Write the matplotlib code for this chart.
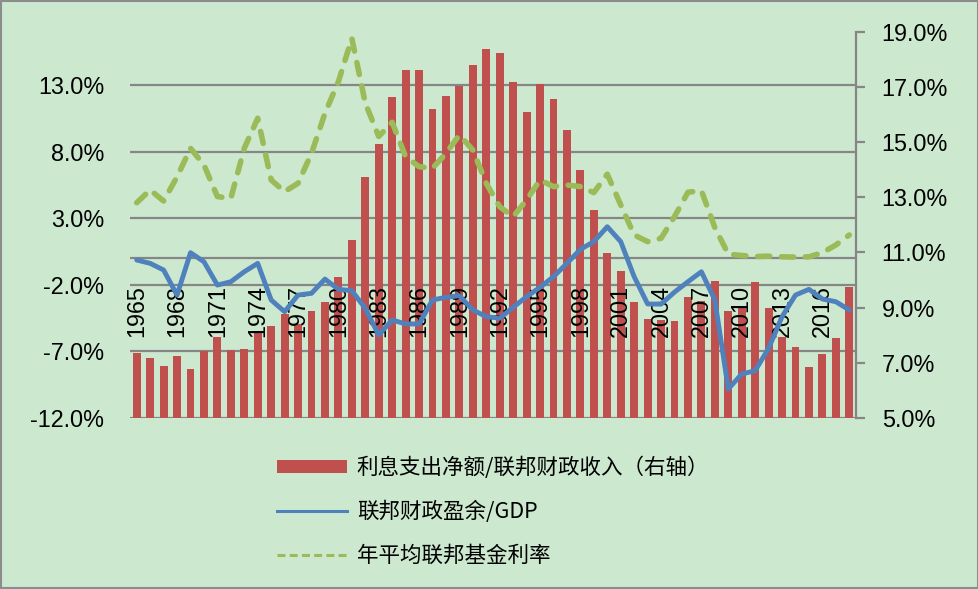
import matplotlib
matplotlib.use("Agg")
import matplotlib.pyplot as plt
from matplotlib.patches import Patch, Rectangle
from matplotlib.lines import Line2D

years = list(range(1965, 2019))

interest_to_revenue = [
    7.36, 7.17, 6.89, 7.25, 6.77, 7.42, 7.93, 7.45, 7.49, 8.09,
    8.32, 8.78, 8.39, 8.87, 9.20, 10.12, 11.46, 13.74, 14.92, 16.62,
    17.60, 17.63, 16.19, 16.66, 17.02, 17.81, 18.39, 18.24, 17.16, 16.08,
    17.12, 16.55, 15.43, 13.99, 12.54, 10.99, 10.34, 9.19, 8.57, 8.55,
    8.50, 9.40, 9.23, 9.98, 8.86, 9.04, 9.94, 8.97, 7.93, 7.57,
    6.85, 7.32, 7.90, 9.73,
]

surplus_to_gdp = [
    -0.14, -0.39, -0.89, -2.77, 0.41, -0.27, -2.02, -1.77, -1.02, -0.39,
    -3.14, -4.02, -2.77, -2.64, -1.57, -2.34, -2.44, -3.77, -5.77, -4.64,
    -4.94, -4.94, -3.14, -2.94, -2.82, -3.89, -4.39, -4.51, -3.69, -2.89,
    -2.19, -1.39, -0.39, 0.66, 1.24, 2.36, 1.24, -1.39, -3.44, -3.45,
    -2.55, -1.77, -1.02, -3.14, -9.82, -8.70, -8.45, -6.77, -4.39, -2.77,
    -2.34, -3.07, -3.27, -3.89,
]

fed_funds_rate = [
    4.16, 5.12, 4.29, 6.10, 8.25, 7.00, 4.62, 4.49, 8.25, 10.50,
    5.87, 4.99, 5.62, 7.87, 10.87, 13.25, 16.50, 11.64, 9.14, 10.20,
    7.62, 6.87, 6.74, 7.87, 9.25, 8.12, 5.62, 3.86, 3.11, 4.37,
    5.87, 5.37, 5.49, 5.37, 4.92, 6.30, 4.00, 1.74, 1.24, 1.49,
    3.12, 4.95, 5.07, 2.30, 0.30, 0.20, 0.12, 0.15, 0.10, 0.08,
    0.10, 0.41, 0.99, 1.74,
]

left_ticks = [-12, -7, -2, 3, 8, 13]
right_ticks = [5, 7, 9, 11, 13, 15, 17, 19]
label_years = years[::3]

series_names = ["利息支出净额/联邦财政收入（右轴）", "联邦财政盈余/GDP", "年平均联邦基金利率"]

BG = "#CCE8CF"
GRID = "#868686"
RED = "#C0504D"
BLUE = "#4F81BD"
GREEN = "#9BBB59"
TICK_FONT = "Liberation Sans"
TICK_SIZE = 16.8

W, H = 979, 589
fig = plt.figure(figsize=(W / 100, H / 100), dpi=100)
fig.patch.set_facecolor(BG)

left, right, top, bottom = 130, 856, 31.7, 418
rect = [left / W, 1 - bottom / H, (right - left) / W, (bottom - top) / H]

x = list(range(len(years)))

# base axes: grid and left tick labels
ax = fig.add_axes(rect)
ax.set_facecolor(BG)
ax.set_xlim(-0.5, len(years) - 0.5)
ax.set_ylim(-12, 17)
ax.set_yticks(left_ticks)
ax.set_yticklabels([f"{v:.1f}%" for v in left_ticks], fontfamily=TICK_FONT, fontsize=TICK_SIZE)
ax.tick_params(axis="y", length=0, pad=18.5)
ax.set_xticks([])
ax.yaxis.grid(True, color=GRID, lw=1.6)
ax.axhline(0, color=GRID, lw=1.6, zorder=0.5)
for s in ax.spines.values():
    s.set_visible(False)

# bars on right axis
ax2 = ax.twinx()
ax2.patch.set_visible(False)
ax2.bar(x, interest_to_revenue, width=0.58, color=RED, bottom=0)
ax2.set_ylim(5, 19)
ax2.set_yticks(right_ticks)
ax2.set_yticklabels([f"{v:.1f}%" for v in right_ticks], fontfamily=TICK_FONT, fontsize=TICK_SIZE)
ax2.tick_params(axis="y", direction="out", length=6.5, width=1.6, color=GRID, pad=12)
for k, s in ax2.spines.items():
    s.set_visible(k == "right")
ax2.spines["right"].set_color(GRID)
ax2.spines["right"].set_linewidth(1.6)
ax2.set_xticks([])

# lines on left scale
ax3 = ax.twinx()
ax3.patch.set_visible(False)
ax3.set_ylim(-12, 17)
ax3.set_yticks([])
ax3.set_xticks([])
for s in ax3.spines.values():
    s.set_visible(False)
for yr in label_years:
    ax3.text(years.index(yr), -2.0, str(yr), rotation=90, ha="center", va="top",
             fontfamily=TICK_FONT, fontsize=TICK_SIZE, color="black", zorder=1)
ax3.plot(x, surplus_to_gdp, color=BLUE, lw=3.5, solid_joinstyle="round",
         solid_capstyle="round", zorder=3)
ax3.plot(x, fed_funds_rate, color=GREEN, lw=4.0, dashes=(2.2, 2.1),
         dash_capstyle="round", dash_joinstyle="round", zorder=3)
ax3.set_xlim(-0.5, len(years) - 0.5)

handles = [
    Patch(facecolor=RED, edgecolor="none"),
    Line2D([], [], color=BLUE, lw=2.2),
    Line2D([], [], color=GREEN, lw=2.2, dashes=(2.6, 1.4)),
]
leg = fig.legend(handles, series_names, loc="upper left",
                 bbox_to_anchor=(277 / W, 1 - 457 / H), frameon=False,
                 borderpad=0, borderaxespad=0, handlelength=3.25,
                 handleheight=0.55, handletextpad=0.46, labelspacing=1.0,
                 prop={"family": ["Noto Sans CJK SC", "DejaVu Sans"], "size": 15.5})

fig.add_artist(Rectangle((0.0008, 0.0012), 0.9985, 0.9978, transform=fig.transFigure,
                         fill=False, edgecolor="#8C8C8C", lw=1.5))

fig.savefig("out.png", dpi=100, facecolor=BG)
